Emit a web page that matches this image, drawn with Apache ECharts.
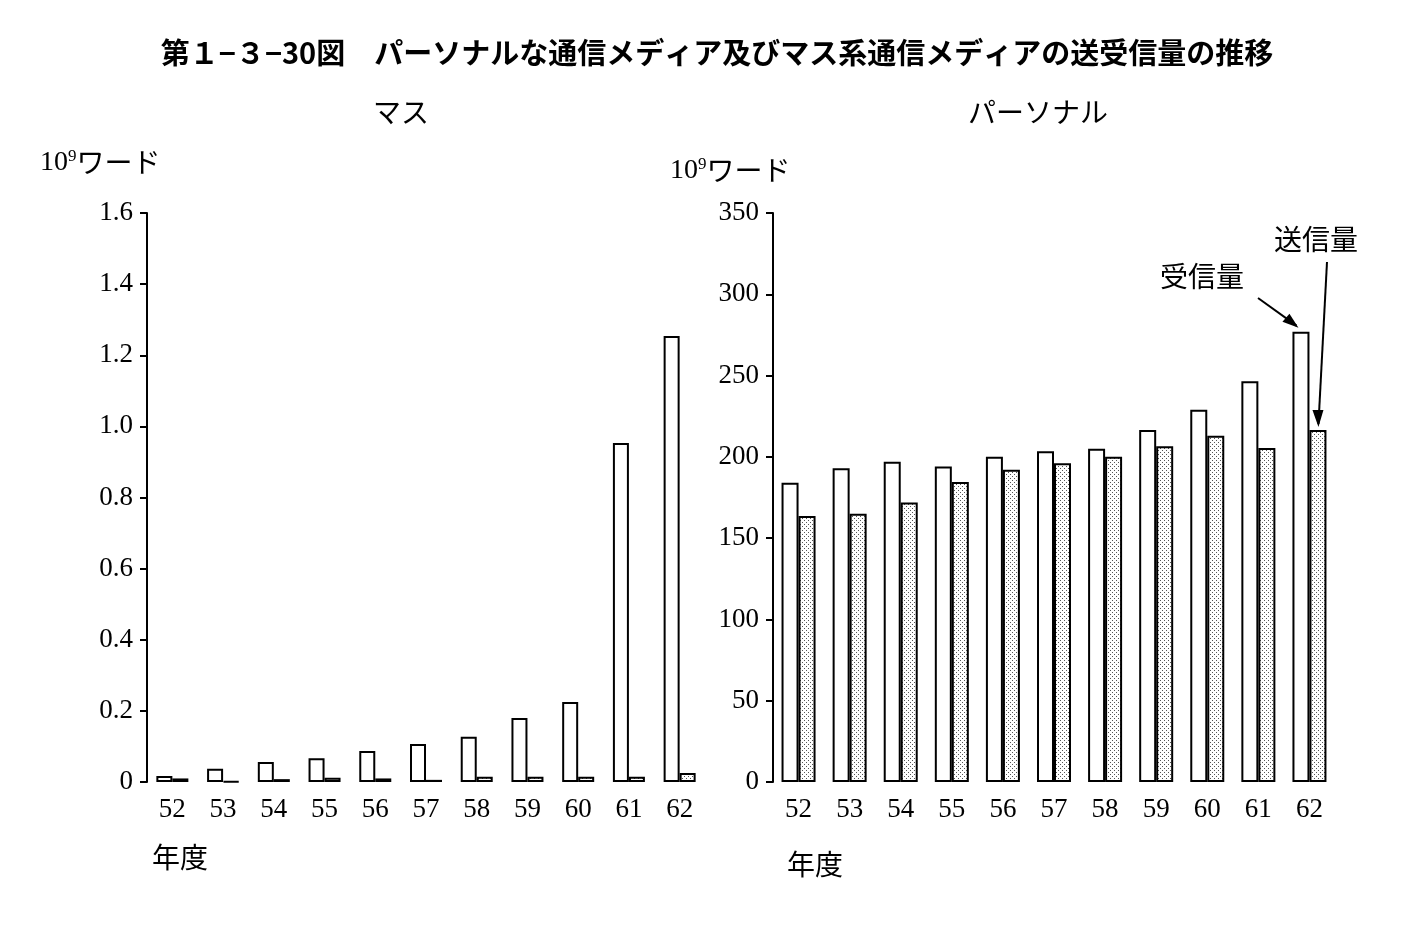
<!DOCTYPE html>
<html><head><meta charset="utf-8">
<script src="https://cdn.jsdelivr.net/npm/echarts@6/dist/echarts.min.js"></script>
<style>html,body{margin:0;background:#fff}#c{width:1424px;height:932px}</style>
</head><body><div id="c"></div>
<script>
const years=['52','53','54','55','56','57','58','59','60','61','62'];
const massRecv=[0.017,0.037,0.056,0.067,0.087,0.107,0.127,0.18,0.225,0.953,1.254];
const massSend=[0.01,0.002,0.008,0.012,0.01,0.006,0.015,0.015,0.015,0.015,0.025];
const persRecv=[184,193,197,194,200,203.5,205,216.5,229,246.5,277];
const persSend=[163.6,165,172,184.5,192,196,200,206.5,213,205.5,216.5];
const serif='"Liberation Serif","DejaVu Serif",serif';
const jp='"Noto Sans CJK JP",sans-serif';
const pc=document.createElement('canvas');pc.width=4;pc.height=4;
const g=pc.getContext('2d');g.fillStyle='#fff';g.fillRect(0,0,4,4);g.fillStyle='#555';g.fillRect(0,0,1,1);g.fillRect(2,2,1,1);
const white={color:'#fff',borderColor:'#000',borderWidth:2};
const dotted={color:{image:pc,repeat:'repeat'},borderColor:'#000',borderWidth:2};
function xA(i){return {type:'category',gridIndex:i,data:years,axisLine:{show:false},axisTick:{show:false},
 axisLabel:{fontFamily:serif,fontSize:27,color:'#000',margin:14}};}
function yA(i,max,interval,fmt){return {type:'value',gridIndex:i,min:0,max:max,interval:interval,
 axisLine:{show:true,lineStyle:{color:'#000',width:2}},axisTick:{show:true,length:7,lineStyle:{color:'#000',width:2}},
 splitLine:{show:false},axisLabel:{fontFamily:serif,fontSize:27,color:'#000',margin:14,formatter:fmt}};}
const chart=echarts.init(document.getElementById('c'));
chart.setOption({
 animation:false,
 title:[{text:'第１−３−30図　パーソナルな通信メディア及びマス系通信メディアの送受信量の推移',left:712,textAlign:'center',top:33,
   textStyle:{fontFamily:jp,fontSize:29,fontWeight:'bold',color:'#000'}}],
 grid:[{left:147,top:213,width:558,height:569},{left:773,top:213,width:562,height:569}],
 xAxis:[xA(0),xA(1)],
 yAxis:[yA(0,1.6,0.2,v=>v===0?'0':v.toFixed(1)),yA(1,350,50,v=>String(v))],
 series:[
  {type:'bar',xAxisIndex:0,yAxisIndex:0,data:massRecv,barWidth:16,barGap:'0%',itemStyle:white},
  {type:'bar',xAxisIndex:0,yAxisIndex:0,data:massSend,barWidth:16,itemStyle:dotted},
  {type:'bar',xAxisIndex:1,yAxisIndex:1,data:persRecv,barWidth:17,barGap:'0%',itemStyle:white},
  {type:'bar',xAxisIndex:1,yAxisIndex:1,data:persSend,barWidth:17,itemStyle:dotted}
 ]
});
const t=(x,y,s,f,sz)=>({type:'text',left:x,top:y,style:{text:s,font:(sz||28)+'px '+(f||jp),fill:'#000'}});
const p1=chart.convertToPixel({xAxisIndex:1,yAxisIndex:1},['62',persRecv[10]]);
const p2=chart.convertToPixel({xAxisIndex:1,yAxisIndex:1},['62',persSend[10]]);
const rx=p1[0]-9, sx=p2[0]+9;
const unit=(x,y)=>({type:'text',left:x,top:y,style:{rich:{a:{font:'28px '+serif},b:{font:'17px '+serif,padding:[0,0,12,0]},c:{font:'28px '+jp}},text:'{a|10}{b|9}{c|ワード}',fill:'#000'}});
chart.setOption({graphic:[
 t(373,98,'マス'),t(968,98,'パーソナル'),
 unit(40,148),unit(670,156),
 t(152,843,'年度'),t(787,850,'年度'),
 t(1160,262,'受信量'),t(1274,225,'送信量'),
 {type:'line',shape:{x1:1258,y1:298,x2:rx-4,y2:p1[1]-6},style:{stroke:'#000',lineWidth:2}},
 {type:'polygon',shape:{points:[[rx-2,p1[1]-4],[rx-18,p1[1]-10],[rx-11,p1[1]-18]]},style:{fill:'#000'}},
 {type:'line',shape:{x1:1327,y1:262,x2:sx,y2:p2[1]-6},style:{stroke:'#000',lineWidth:2}},
 {type:'polygon',shape:{points:[[sx,p2[1]-3],[sx-6,p2[1]-20],[sx+5,p2[1]-20]]},style:{fill:'#000'}}
]});
</script></body></html>
